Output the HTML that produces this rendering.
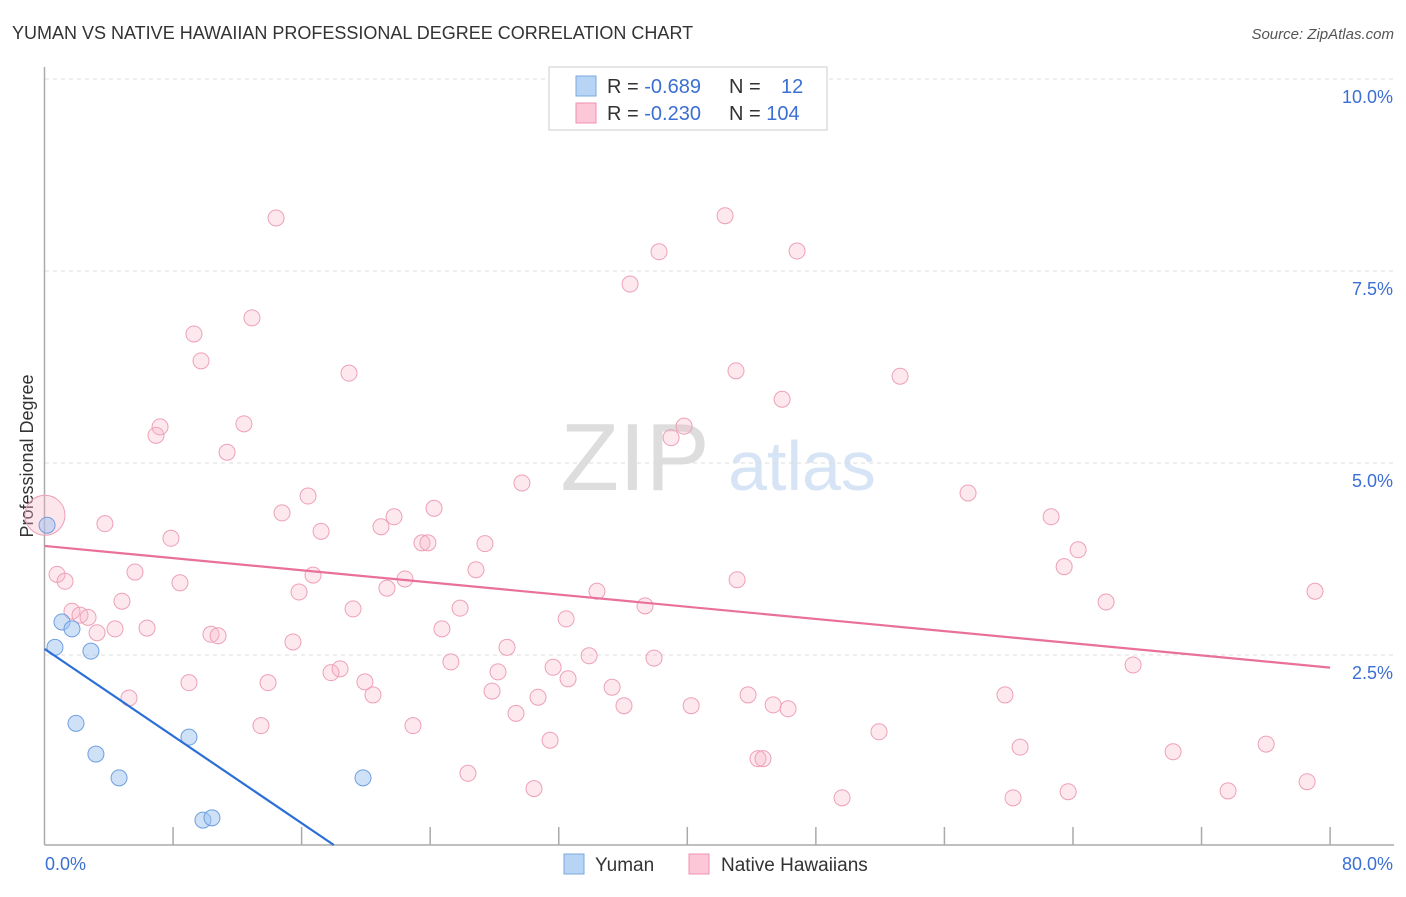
<!DOCTYPE html>
<html><head><meta charset="utf-8"><style>
body{margin:0;background:#fff;font-family:"Liberation Sans",sans-serif;}
svg text{font-family:"Liberation Sans",sans-serif;}
</style></head><body>
<svg id="c" width="1406" height="892">
<text x="12" y="39" font-size="18" fill="#333">YUMAN VS NATIVE HAWAIIAN PROFESSIONAL DEGREE CORRELATION CHART</text>
<text x="1394" y="39" font-size="15" fill="#555" font-style="italic" text-anchor="end">Source: ZipAtlas.com</text>
<text transform="translate(33,456) rotate(-90)" font-size="18" fill="#333" text-anchor="middle">Professional Degree</text>
<g><text x="635" y="490" font-size="96" fill="#ddd" font-family="Liberation Serif" text-anchor="middle">ZIP</text><text x="802" y="490" font-size="70" fill="#d6e4f5" text-anchor="middle">atlas</text></g>
<g id="grid"></g><g id="axes"></g><g id="marks"></g>
<g>
<rect x="549" y="67" width="278" height="63" fill="#fff" stroke="#ccc"/>
<rect x="576" y="76" width="20" height="20" fill="#b8d4f5" stroke="#7aa8e0"/>
<rect x="576" y="103" width="20" height="20" fill="#fcc8d8" stroke="#f090b0"/>
<text x="607" y="93" font-size="20" fill="#333">R = <tspan fill="#3b6fd4">-0.689</tspan></text>
<text x="729" y="93" font-size="20" fill="#333">N = <tspan fill="#3b6fd4" x="781">12</tspan></text>
<text x="607" y="120" font-size="20" fill="#333">R = <tspan fill="#3b6fd4">-0.230</tspan></text>
<text x="729" y="120" font-size="20" fill="#333">N = <tspan fill="#3b6fd4">104</tspan></text>
</g>
<g>
<rect x="564" y="854" width="20" height="20" fill="#b8d4f5" stroke="#7aa8e0"/>
<text x="595" y="871" font-size="19" fill="#333">Yuman</text>
<rect x="689" y="854" width="20" height="20" fill="#fcc8d8" stroke="#f090b0"/>
<text x="721" y="871" font-size="19" fill="#333">Native Hawaiians</text>
</g>
</svg>
<script>
const yumanX=[0.16,0.65,1.09,1.71,2.89,1.96,3.20,4.64,8.99,9.86,10.42,19.82];
const yumanY=[4.19,2.60,2.93,2.84,2.55,1.61,1.21,0.90,1.43,0.35,0.38,0.90];
const hawX=[0.78,1.28,1.71,2.21,2.71,3.27,3.76,4.39,4.82,5.26,5.63,6.38,6.94,7.19,7.87,8.43,8.99,9.30,9.74,10.36,10.80,11.36,12.41,12.91,13.47,13.91,14.41,14.78,15.46,15.84,16.40,16.71,17.21,17.83,18.39,18.95,19.20,19.94,20.44,20.94,21.31,21.75,22.43,22.93,23.49,23.86,24.24,24.73,25.29,25.86,26.35,26.85,27.41,27.85,28.22,28.78,29.34,29.71,30.46,30.71,31.46,31.65,32.46,32.58,33.89,34.38,35.32,36.06,36.44,37.37,37.93,38.24,38.99,39.80,40.24,42.35,43.03,43.10,43.78,44.40,44.71,45.34,45.90,46.27,46.83,49.63,51.93,53.24,57.47,59.77,60.27,60.71,62.64,63.45,63.70,64.32,66.06,67.74,70.23,73.65,76.02,78.57,79.06];
const hawY=[3.55,3.46,3.07,3.02,2.99,2.79,4.21,2.84,3.20,1.94,3.58,2.85,5.36,5.47,4.02,3.44,2.14,6.68,6.33,2.77,2.75,5.14,5.51,6.89,1.58,2.14,8.19,4.35,2.67,3.32,4.57,3.54,4.11,2.27,2.32,6.17,3.10,2.15,1.98,4.17,3.37,4.30,3.49,1.58,3.96,3.96,4.41,2.84,2.41,3.11,0.96,3.61,3.95,2.03,2.28,2.60,1.74,4.74,0.76,1.95,1.39,2.34,2.97,2.19,2.49,3.33,2.08,1.84,7.33,3.14,2.46,7.75,5.33,5.48,1.84,8.22,6.20,3.48,1.98,1.15,1.15,1.85,5.83,1.80,7.76,0.64,1.50,6.13,4.61,1.98,0.64,1.30,4.30,3.65,0.72,3.87,3.19,2.37,1.24,0.73,1.34,0.85,3.33];
const bigX=[0.03], bigY=[4.32];
const yTicks=[2.5,5.0,7.5,10.0];
const yTickLabels=["2.5%","5.0%","7.5%","10.0%"];
const xTicks=[0,8,16,24,32,40,48,56,64,72,80];
const hawTrend=[3.92,-0.0198];
const yumTrend=[2.58,-0.1433];
const NS='http://www.w3.org/2000/svg';
const X=v=>44.5+v*16.07, Y=v=>847-v*76.8;
function mk(p,t,a){const e=document.createElementNS(NS,t);for(const k in a)e.setAttribute(k,a[k]);p.appendChild(e);return e;}
const grid=document.getElementById('grid'),axes=document.getElementById('axes'),marks=document.getElementById('marks');
yTicks.forEach((t,i)=>{
 const l=mk(grid,'line',{x1:45,x2:1394,y1:Y(t),y2:Y(t),stroke:'#ddd','stroke-dasharray':'4,4'});
 
 
 const tx=mk(grid,'text',{x:1393,y:Y(t)+24,'font-size':18,fill:'#3b6fd4','text-anchor':'end'});
 tx.textContent=yTickLabels[i];
 
 
});
let a=mk(axes,'line',{x1:44.5,x2:44.5,y1:67,y2:845,stroke:'#aaa','stroke-width':1.5});


a=mk(axes,'line',{x1:44.5,x2:1394,y1:845,y2:845,stroke:'#aaa','stroke-width':1.5});


xTicks.forEach(t=>{if(t===0)return;const e=mk(axes,'line',{x1:X(t),x2:X(t),y1:827,y2:845,stroke:'#aaa','stroke-width':1.5});
 
 });
let t0=mk(axes,'text',{x:45,y:870,'font-size':18,fill:'#3b6fd4'});t0.textContent='0.0%';


let t1=mk(axes,'text',{x:1393,y:870,'font-size':18,fill:'#3b6fd4','text-anchor':'end'});t1.textContent='80.0%';


hawX.forEach((x,i)=>{const c=mk(marks,'circle',{cx:X(x),cy:Y(hawY[i]),r:8,fill:'rgba(248,180,200,0.3)',stroke:'#eea0b8','stroke-width':1});
 
 });
bigX.forEach((x,i)=>{const c=mk(marks,'circle',{cx:X(x),cy:Y(bigY[i]),r:20,fill:'rgba(248,180,200,0.35)',stroke:'#eea0b8'});
 
 });
yumanX.forEach((x,i)=>{const c=mk(marks,'circle',{cx:X(x),cy:Y(yumanY[i]),r:8,fill:'rgba(160,195,240,0.5)',stroke:'#6f9fe0','stroke-width':1});
 
 });
let ln=mk(marks,'line',{x1:X(0),y1:Y(hawTrend[0]),x2:X(80),y2:Y(hawTrend[0]+80*hawTrend[1]),stroke:'#e8709a','stroke-width':2.2});


const xe=-yumTrend[0]/yumTrend[1];
ln=mk(marks,'line',{x1:X(0),y1:Y(yumTrend[0]),x2:X(xe),y2:Y(0)-2,stroke:'#2a6fd6','stroke-width':2.2});


</script>
</body></html>
